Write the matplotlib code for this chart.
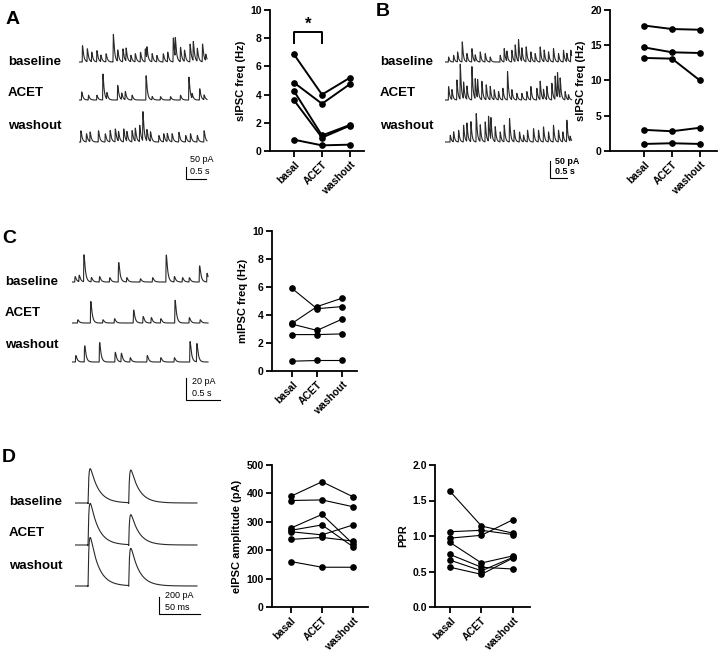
import numpy as np
import matplotlib
matplotlib.use("Agg")
import matplotlib.pyplot as plt

plt.rcParams['font.family'] = ['Liberation Sans', 'DejaVu Sans']
plt.rcParams['font.weight'] = 'bold'
plt.rcParams['axes.labelweight'] = 'bold'

W, H = 720, 653
fig = plt.figure(figsize=(7.2, 6.53), dpi=100)

conds = ["basal", "ACET", "washout"]
rows = ["baseline", "ACET", "washout"]

# paired values, one list per cell
sipsc_a = [[6.85, 4.0, 5.2], [4.85, 3.35, 4.75], [4.25, 1.1, 1.85],
           [3.6, 0.95, 1.8], [0.8, 0.4, 0.45]]
sipsc_b = [[17.8, 17.3, 17.2], [14.7, 14.0, 13.9], [13.2, 13.1, 10.0],
           [3.0, 2.8, 3.3], [1.0, 1.1, 1.0]]
mipsc_c = [[5.9, 4.45, 4.6], [3.4, 4.6, 5.2], [3.35, 2.9, 3.7],
           [2.6, 2.6, 2.65], [0.7, 0.75, 0.75]]
eipsc_amp = [[390, 441, 388], [375, 377, 353], [278, 326, 222], [270, 289, 212],
             [265, 254, 289], [238, 245, 232], [160, 140, 140]]
ppr = [[1.63, 1.14, 1.04], [1.06, 1.08, 1.02], [0.97, 1.01, 1.23], [0.91, 0.62, 0.72],
       [0.74, 0.56, 0.535], [0.66, 0.51, 0.70], [0.56, 0.46, 0.69]]

# event times (s) and amplitudes (pA)
a_t = [[0.08, 0.20, 0.31, 0.44, 0.54, 0.67, 0.85, 0.96, 1.09, 1.17, 1.29, 1.40, 1.53, 1.65,
        1.69, 1.82, 1.94, 2.10, 2.21, 2.35, 2.40, 2.53, 2.63, 2.77, 2.85, 2.95, 3.08, 3.16],
       [0.06, 0.23, 0.44, 0.59, 0.69, 0.96, 1.06, 1.15, 1.32, 1.67, 1.82, 2.03, 2.28, 2.53,
        2.74, 2.82, 3.01, 3.12],
       [0.04, 0.18, 0.27, 0.48, 0.65, 0.77, 0.90, 0.98, 1.11, 1.19, 1.32, 1.40, 1.51, 1.59,
        1.69, 1.78, 1.99, 2.11, 2.20, 2.32, 2.49, 2.66, 2.78, 2.95, 3.12]]
a_amp = [[68, 54, 40, 47, 27, 34, 115, 47, 54, 54, 27, 34, 40, 54, 47, 34, 27, 34, 40, 100,
          80, 60, 47, 74, 80, 54, 74, 27],
         [34, 20, 20, 108, 27, 61, 27, 34, 20, 101, 14, 14, 14, 20, 95, 20, 47, 20],
         [47, 34, 40, 47, 34, 47, 54, 40, 54, 40, 47, 54, 68, 121, 47, 40, 27, 34, 34, 34,
          40, 27, 34, 27, 47]]

b_t = [[0.10, 0.25, 0.37, 0.51, 0.65, 0.80, 0.90, 1.05, 1.20, 1.35, 1.65, 1.77, 1.85, 2.00,
        2.10, 2.20, 2.30, 2.43, 2.57, 2.70, 2.85, 2.97, 3.10, 3.25, 3.40, 3.55, 3.65, 3.77],
       [0.10, 0.20, 0.35, 0.45, 0.55, 0.65, 0.80, 0.90, 0.97, 1.10, 1.23, 1.35, 1.47, 1.60,
        1.73, 1.87, 2.00, 2.15, 2.30, 2.45, 2.57, 2.75, 2.85, 2.95, 3.05, 3.20, 3.30, 3.37,
        3.45, 3.60, 3.70],
       [0.15, 0.25, 0.40, 0.55, 0.65, 0.77, 0.93, 1.05, 1.20, 1.30, 1.37, 1.50, 1.65, 1.77,
        1.93, 2.07, 2.23, 2.35, 2.47, 2.65, 2.80, 2.95, 3.10, 3.25, 3.40, 3.53, 3.65, 3.75]]
b_amp = [[15, 20, 30, 60, 25, 40, 20, 30, 25, 15, 20, 40, 30, 35, 50, 65, 40, 45, 30, 25,
          45, 35, 30, 40, 25, 35, 25, 35],
         [40, 30, 60, 105, 50, 40, 100, 60, 55, 55, 45, 40, 30, 25, 35, 85, 30, 20, 20, 25,
          40, 35, 55, 30, 40, 50, 70, 75, 60, 25, 15],
         [20, 30, 35, 50, 55, 60, 85, 50, 60, 75, 65, 45, 30, 50, 70, 35, 30, 20, 35, 40,
          35, 45, 30, 50, 35, 30, 65, 15]]

c_t = [[0.04, 0.10, 0.17, 0.28, 0.40, 0.55, 0.68, 0.80, 1.00, 1.18, 1.38, 1.50, 1.62, 1.72,
        1.87, 1.98],
       [0.08, 0.27, 0.45, 0.62, 0.90, 1.04, 1.16, 1.30, 1.51, 1.72, 1.88],
       [0.05, 0.18, 0.40, 0.63, 0.72, 0.85, 1.10, 1.30, 1.50, 1.73, 1.83]]
c_amp = [[5, 6, 25, 4, 5, 4, 18, 4, 3, 4, 25, 5, 4, 4, 15, 8],
         [3, 20, 3, 4, 12, 6, 5, 4, 21, 5, 3],
         [6, 15, 18, 9, 8, 4, 6, 4, 4, 19, 17]]

d_stim = [16, 66]  # ms
d_amp = [[396, 377], [480, 346], [560, 430]]


def px_axes(x0, y0, x1, y1):
    return fig.add_axes([x0 / W, 1 - y1 / H, (x1 - x0) / W, (y1 - y0) / H])


def make_trace(times, amps, dur, rise, tau, n):
    t = np.linspace(0, dur, n)
    k = np.linspace(0, 10 * tau, 2000)
    kmax = np.max((1 - np.exp(-k / rise)) * np.exp(-k / tau))
    y = np.zeros(n)
    for te, a in zip(times, amps):
        d = t - te
        m = d > 0
        y[m] += a * (1 - np.exp(-d[m] / rise)) * np.exp(-d[m] / tau) / kmax
    return t, y


def trace_block(box, px_s, px_pa, traces, levels, bar, bar_s, bar_pa, txt, txt_w):
    x0, y0, x1, y1 = box
    ax = px_axes(*box)
    ax.set_xlim(0, (x1 - x0) / px_s)
    ax.set_ylim(0, (y1 - y0) / px_pa)
    ax.axis('off')
    for (t, y), lev in zip(traces, levels):
        ax.plot(t, y + (y1 - lev) / px_pa, color='#2a2a2a', lw=0.8)
    bx, by = bar
    tb = (bx - x0) / px_s
    vb = (y1 - by) / px_pa
    ax.plot([tb, tb, tb + bar_s], [vb + bar_pa, vb, vb], color='black', lw=0.8,
            solid_joinstyle='miter')
    for (tx, ty, s) in txt:
        fig.text(tx / W, 1 - ty / H, s, fontsize=6.5, fontweight=txt_w, va='center')


def row_labels(x, ys):
    for name, y in zip(rows, ys):
        fig.text(x / W, 1 - y / H, name, fontsize=9.5, fontweight='bold', va='center')


def paired(box, data, ylim, yticks, ylabel, xlim, lw, ms, fmt='{:g}'):
    ax = px_axes(*box)
    for s in data:
        ax.plot(range(3), s, '-o', color='black', lw=lw, ms=ms, clip_on=False)
    ax.set_xlim(xlim)
    ax.set_ylim(ylim)
    ax.set_yticks(yticks)
    ax.set_yticklabels([fmt.format(v) for v in yticks])
    ax.set_xticks(range(3))
    ax.set_xticklabels(conds, rotation=45, ha='right', rotation_mode='anchor')
    ax.spines['top'].set_visible(False)
    ax.spines['right'].set_visible(False)
    for sp in ('left', 'bottom'):
        ax.spines[sp].set_linewidth(1.3)
    ax.tick_params(width=1.3, length=4, labelsize=7.5, pad=2)
    ax.set_ylabel(ylabel, fontsize=8, labelpad=3)
    return ax


def panel_letter(x, y, s):
    fig.text(x / W, 1 - y / H, s, fontsize=14, fontweight='bold', va='center')


# ---- A
panel_letter(6, 19, "A")
row_labels(8, [62, 93, 126])
tr = [make_trace(a_t[i], a_amp[i], 3.2, 0.004, 0.03, 3000) for i in range(3)]
trace_block((79, 20, 210, 185), 40, 0.24, tr, [62, 100, 142], (186, 179), 0.5, 50,
            [(190, 160, "50 pA"), (190, 172, "0.5 s")], 'normal')
ax = paired((270, 10, 364, 151), sipsc_a, (0, 10), [0, 2, 4, 6, 8, 10],
            "sIPSC freq (Hz)", (-0.857, 2.5), 1.4, 3.8)
ax.plot([0, 0, 1, 1], [7.66, 8.44, 8.44, 7.66], color='black', lw=1.4, clip_on=False)
ax.text(0.5, 9.0, "*", ha='center', va='center', fontsize=12, fontweight='bold')

# ---- B
panel_letter(376, 12, "B")
row_labels(380, [62, 93, 126])
tr = [make_trace(b_t[i], b_amp[i], 3.8, 0.004, 0.03, 3000) for i in range(3)]
trace_block((445, 20, 575, 185), 33.3, 0.333, tr, [62, 100, 142], (550, 178), 0.5, 50,
            [(555, 161, "50 pA"), (555, 172, "0.5 s")], 'bold')
paired((610, 10, 717, 151), sipsc_b, (0, 20), [0, 5, 10, 15, 20],
       "sIPSC freq (Hz)", (-1.214, 2.607), 1.4, 3.8)

# ---- C
panel_letter(2, 238, "C")
row_labels(5, [282, 313, 345])
tr = [make_trace(c_t[i], c_amp[i], 2.0, 0.004, 0.02, 3000) for i in range(3)]
trace_block((72, 240, 222, 402), 68, 1.08, tr, [282, 323, 362], (186, 400), 0.5, 20,
            [(192, 382, "20 pA"), (192, 393, "0.5 s")], 'normal')
paired((272, 231, 357, 371), mipsc_c, (0, 10), [0, 2, 4, 6, 8, 10],
       "mIPSC freq (Hz)", (-0.8, 2.6), 0.8, 3.8)

# ---- D
panel_letter(2, 458, "D")
row_labels(9, [502, 533, 566])
tr = []
for i in range(3):
    t, y = make_trace(d_stim, d_amp[i], 150, 1.2, 10.0, 4000)
    t2, art = make_trace(d_stim, [-35, -35], 150, 0.05, 0.25, 4000)
    tr.append((t, y + art))
trace_block((75, 460, 202, 616), 0.813, 0.0867, tr, [503, 545, 586], (159, 614), 50, 200,
            [(165, 596, "200 pA"), (165, 607, "50 ms")], 'normal')
paired((272, 465, 368, 607), eipsc_amp, (0, 500), [0, 100, 200, 300, 400, 500],
       "eIPSC amplitude (pA)", (-0.61, 2.48), 0.8, 3.8)
paired((435, 465, 530, 607), ppr, (0, 2), [0, 0.5, 1.0, 1.5, 2.0],
       "PPR", (-0.476, 2.54), 0.8, 3.8, fmt='{:.1f}')

fig.savefig("out.png", dpi=100)
